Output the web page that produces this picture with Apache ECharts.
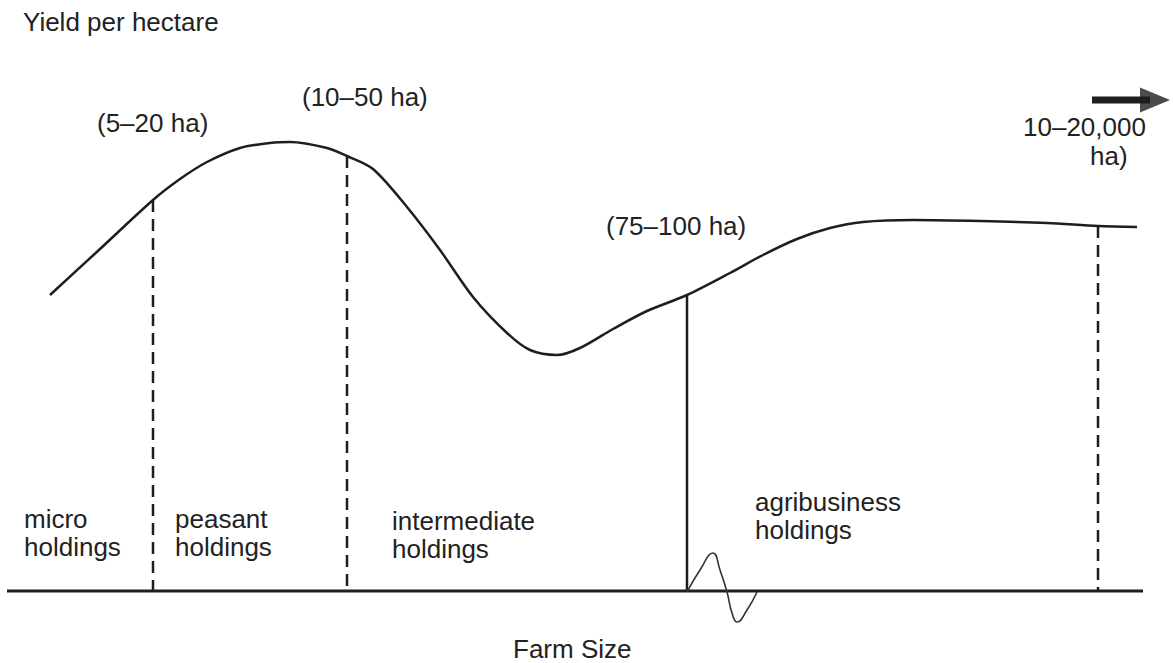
<!DOCTYPE html>
<html>
<head>
<meta charset="utf-8">
<title>Yield per hectare and farm size</title>
<script src="https://cdn.jsdelivr.net/npm/echarts@6/dist/echarts.min.js"></script>
<style>
  html, body { margin: 0; padding: 0; background: #fff; }
  #chart { width: 1173px; height: 663px; }
</style>
</head>
<body>
<div id="chart"></div>
<script>
// position along the farm size axis / yield height above the baseline
const curveX = [50, 100, 153, 180, 207, 240, 270, 290, 327, 347, 373, 407, 440, 473, 507, 530, 557, 580, 613, 647, 687, 730, 763, 797, 830, 863, 913, 980, 1047, 1098, 1137]
const curveY = [296, 342, 391, 412, 429, 443, 448, 449, 443, 435, 422, 384, 341, 294, 258, 241, 236, 243, 262, 280, 296, 318, 336, 352, 363, 369, 371, 370, 368, 365, 364]

// class boundaries: where they stand and where they meet the curve
const dividerX = [153, 347, 687, 1098]
const dividerTop = [391, 435, 296, 365]
const dividerSolid = [false, false, true, false]

// the scale break drawn on the axis
const breakX = [687, 700, 713, 720, 727, 732, 737, 747, 757]
const breakY = [-1, 21, 38, 21, -1, -22, -31, -19, -1]

const axisX = [7, 1143]
const arrowX = [1092, 1150]
const arrowHeadX = 1155
const arrowY = 491

const sizeLabels = ['(5–20 ha)', '(10–50 ha)', '(75–100 ha)', '10–20,000', 'ha)']
const classLabels = ['micro\nholdings', 'peasant\nholdings', 'intermediate\nholdings', 'agribusiness\nholdings']
const yTitle = 'Yield per hectare'
const xTitle = 'Farm Size'

const ink = '#1e1e1e'
const font = '"Liberation Sans", Arial, Helvetica, sans-serif'

const chart = echarts.init(document.getElementById('chart'), null, { renderer: 'svg' })

// y is the middle of the first line
const text = (str, left, y) => ({
	type: 'text',
	left: left,
	top: y - 14,
	silent: true,
	style: {
		text: str,
		fill: '#222',
		font: '26px ' + font,
		lineHeight: 28
	}
})

const dividerSeries = dividerX.map((x, i) => ({
	type: 'line',
	data: [[x, dividerTop[i]], [x, 0]],
	symbol: 'none',
	clip: false,
	lineStyle: {
		color: ink,
		width: 2.5,
		type: dividerSolid[i] ? 'solid' : [12, 7]
	}
}))

const option = {
	animation: false,
	grid: { left: 0, right: 0, top: 0, bottom: 0 },
	xAxis: {
		type: 'value',
		min: 0,
		max: 1173,
		show: false
	},
	yAxis: {
		type: 'value',
		min: -72,
		max: 591,
		show: false
	},
	series: [
		{
			type: 'line',
			data: curveX.map((x, i) => [x, curveY[i]]),
			smooth: 0.3,
			symbol: 'none',
			clip: false,
			lineStyle: { color: ink, width: 2.5 }
		},
		...dividerSeries,
		{
			type: 'line',
			data: axisX.map(x => [x, 0]),
			symbol: 'none',
			clip: false,
			lineStyle: { color: ink, width: 3 }
		},
		{
			type: 'line',
			data: breakX.map((x, i) => [x, breakY[i]]),
			smooth: 0.5,
			symbol: 'none',
			clip: false,
			lineStyle: { color: '#333', width: 1.6 }
		},
		// arrow pointing to larger farms
		{
			type: 'line',
			data: arrowX.map(x => [x, arrowY]),
			symbol: 'none',
			clip: false,
			lineStyle: { color: ink, width: 7 }
		},
		{
			type: 'scatter',
			data: [[arrowHeadX, arrowY]],
			symbol: 'triangle',
			symbolRotate: -90,
			symbolSize: [25, 30],
			clip: false,
			silent: true,
			itemStyle: { color: ink }
		}
	],
	graphic: [
		text(yTitle, 23, 22),
		text(sizeLabels[0], 97, 123),
		text(sizeLabels[1], 302, 97),
		text(sizeLabels[2], 606, 226),
		text(sizeLabels[3], 1023, 127),
		text(sizeLabels[4], 1090, 156),
		text(classLabels[0], 24, 519),
		text(classLabels[1], 175, 519),
		text(classLabels[2], 392, 521),
		text(classLabels[3], 755, 502),
		text(xTitle, 513, 649)
	]
}

chart.setOption(option)
</script>
</body>
</html>
